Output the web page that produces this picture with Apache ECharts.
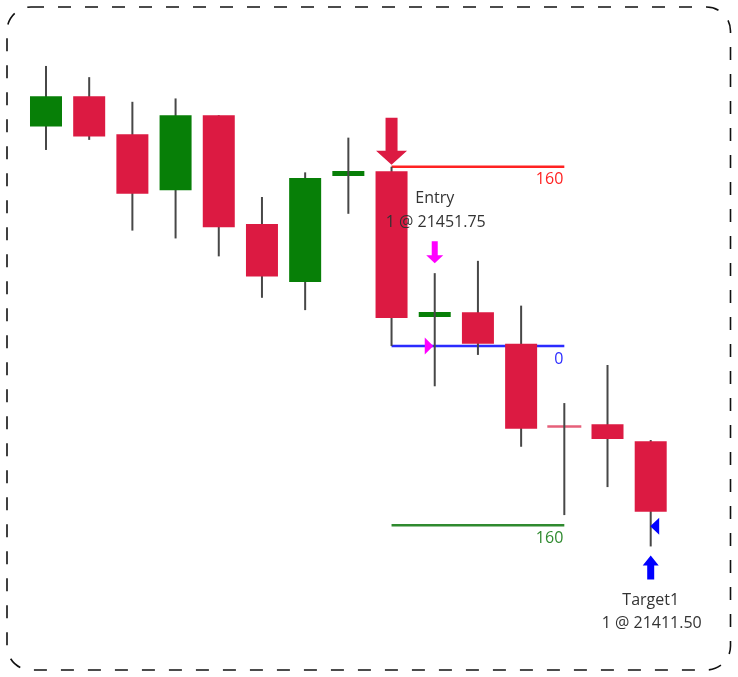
<!DOCTYPE html>
<html>
<head>
<meta charset="utf-8">
<script src="https://cdn.jsdelivr.net/npm/echarts@6/dist/echarts.min.js"></script>
<style>html,body{margin:0;padding:0;background:#fff}#c{width:738px;height:677px}</style>
</head>
<body>
<div id="c"></div>
<script>
// ---- data ----
const categories = ['1','2','3','4','5','6','7','8','9','10','11','12','13','14','15'];
const openV  = [21500.75, 21507.5, 21499, 21486.5, 21503.25, 21479, 21466, 21490.25, 21490.75, 21458.75, 21459.25, 21452.25, 21433.75, 21434.25, 21430.5];
const closeV = [21507.5, 21498.5, 21485.75, 21503.25, 21478.25, 21467.25, 21489.25, 21490.25, 21458, 21458.75, 21452.25, 21433.25, 21433.75, 21431, 21414.75];
const lowV   = [21495.5, 21497.75, 21477.5, 21475.75, 21471.75, 21462.5, 21459.75, 21481.25, 21451.75, 21442.75, 21449.75, 21429.25, 21414, 21420.25, 21407];
const highV  = [21514.25, 21511.75, 21506.25, 21507, 21503.25, 21485, 21490.5, 21498.25, 21491.75, 21468, 21470.75, 21460.75, 21439, 21447.5, 21430.75];
const bearishDoji = [12];

const levelPrices = [21491.75, 21451.75, 21411.75];
const levelLabels = ['160', '0', '160'];
const levelColors = ['#ff2222', '#2b2bff', '#2f8a2f'];
const levelStart = 8, levelEnd = 12;

const signalIndex = 8;
const entryIndex = 9, entryPrice = 21451.75, entryTexts = ['Entry', '1 @ 21451.75'];
const targetIndex = 14, targetPrice = 21411.50, targetTexts = ['Target1', '1 @ 21411.50'];

// ---- styles ----
const GREEN = '#077f07', RED = '#dc1a42', WICK = '#474747';
const FONT = '15px "Open Sans", "Noto Sans", sans-serif';
const TFONT = '16px "Open Sans", "Noto Sans", sans-serif';
const TCOL = '#333333';

function downArrow(cx, tipY, shaftW, shaftLen, headW, headLen) {
  const b = tipY - headLen, t = b - shaftLen;
  return [[cx - shaftW/2, t], [cx + shaftW/2, t], [cx + shaftW/2, b], [cx + headW/2, b], [cx, tipY], [cx - headW/2, b], [cx - shaftW/2, b]];
}
function upArrow(cx, tipY, shaftW, shaftLen, headW, headLen) {
  const b = tipY + headLen, t = b + shaftLen;
  return [[cx - shaftW/2, t], [cx + shaftW/2, t], [cx + shaftW/2, b], [cx + headW/2, b], [cx, tipY], [cx - headW/2, b], [cx - shaftW/2, b]];
}

const chart = echarts.init(document.getElementById('c'));

const candleData = categories.map((c, i) => [i, openV[i], closeV[i], lowV[i], highV[i]]);

function renderCandle(params, api) {
  const i = api.value(0), o = api.value(1), c = api.value(2), l = api.value(3), h = api.value(4);
  const pO = api.coord([i, o]), pC = api.coord([i, c]), pL = api.coord([i, l]), pH = api.coord([i, h]);
  const x = pO[0], bw = 32;
  const wick = {type: 'line', shape: {x1: x, y1: pH[1], x2: x, y2: pL[1]}, style: {stroke: WICK, lineWidth: 2}};
  if (o === c) {
    const bear = bearishDoji.indexOf(i) >= 0;
    const hh = bear ? 2.5 : 5;
    const body = {type: 'rect', shape: {x: x - bw/2 - (bear ? 1 : 0), y: pO[1] - hh/2, width: bw + (bear ? 2 : 0), height: hh},
      style: {fill: bear ? '#e6607a' : GREEN}};
    return {type: 'group', children: [body, wick]};
  }
  const top = Math.min(pO[1], pC[1]), bot = Math.max(pO[1], pC[1]);
  const body = {type: 'rect', shape: {x: x - bw/2, y: top, width: bw, height: bot - top}, style: {fill: c > o ? GREEN : RED}};
  return {type: 'group', children: [wick, body]};
}

function renderLevel(params, api) {
  const k = params.dataIndex;
  const p1 = api.coord([api.value(0), api.value(2)]);
  const p2 = api.coord([api.value(1), api.value(2)]);
  return {type: 'group', children: [
    {type: 'line', shape: {x1: p1[0], y1: p1[1], x2: p2[0], y2: p2[1]}, style: {stroke: levelColors[k], lineWidth: 2.5}},
    {type: 'text', style: {text: levelLabels[k], x: p2[0] - 1, y: p2[1] + 13, fill: levelColors[k], font: TFONT, align: 'right', verticalAlign: 'middle'}}
  ]};
}

const option = {
  animation: false,
  grid: {left: 24.4, top: 17.8, width: 647.9, height: 604.8},
  xAxis: {type: 'category', data: categories, show: false, boundaryGap: true},
  yAxis: {type: 'value', min: 21390, max: 21525, show: false},
  graphic: [{
    type: 'rect', x: 7, y: 7, shape: {x: 0, y: 0, width: 723.5, height: 663, r: 24},
    style: {fill: 'none', stroke: '#111', lineWidth: 1.6, lineDash: [13, 14]}, silent: true
  }],
  series: [
    {type: 'custom', name: 'levels', data: levelPrices.map(p => [levelStart, levelEnd, p]), renderItem: renderLevel, z: 1},
    {type: 'custom', name: 'candles', data: candleData, encode: {x: 0, y: [1, 2, 3, 4]}, renderItem: renderCandle, z: 2},
    {type: 'custom', name: 'signal', data: [[signalIndex, highV[signalIndex]]], z: 3,
      renderItem: (params, api) => {
        const p = api.coord([api.value(0), api.value(1)]);
        return {type: 'polygon', shape: {points: downArrow(p[0], p[1] - 2, 12, 33, 31, 14)}, style: {fill: RED}};
      }},
    {type: 'custom', name: 'entryArrow', data: [[entryIndex, highV[entryIndex]]], z: 3,
      renderItem: (params, api) => {
        const p = api.coord([api.value(0), api.value(1)]);
        return {type: 'group', children: [
          {type: 'polygon', shape: {points: downArrow(p[0], p[1] - 10, 6, 14, 17, 8)}, style: {fill: '#ff00ff'}},
          {type: 'text', style: {text: entryTexts[0], x: p[0], y: p[1] - 75, fill: TCOL, font: TFONT, align: 'center', verticalAlign: 'middle'}},
          {type: 'text', style: {text: entryTexts[1], x: p[0] + 1, y: p[1] - 51, fill: TCOL, font: TFONT, align: 'center', verticalAlign: 'middle'}}
        ]};
      }},
    {type: 'custom', name: 'entryFill', data: [[entryIndex, entryPrice]], z: 4,
      renderItem: (params, api) => {
        const p = api.coord([api.value(0), api.value(1)]);
        return {type: 'polygon', shape: {points: [[p[0] - 10, p[1] - 8.5], [p[0] - 1.5, p[1]], [p[0] - 10, p[1] + 8.5]]}, style: {fill: '#ff00ff'}};
      }},
    {type: 'custom', name: 'targetArrow', data: [[targetIndex, lowV[targetIndex]]], z: 3,
      renderItem: (params, api) => {
        const p = api.coord([api.value(0), api.value(1)]);
        return {type: 'group', children: [
          {type: 'polygon', shape: {points: upArrow(p[0], p[1] + 9, 7, 14, 16, 10)}, style: {fill: '#0000ff'}},
          {type: 'text', style: {text: targetTexts[0], x: p[0], y: p[1] + 54, fill: TCOL, font: TFONT, align: 'center', verticalAlign: 'middle'}},
          {type: 'text', style: {text: targetTexts[1], x: p[0] + 1, y: p[1] + 77, fill: TCOL, font: TFONT, align: 'center', verticalAlign: 'middle'}}
        ]};
      }},
    {type: 'custom', name: 'targetFill', data: [[targetIndex, targetPrice]], z: 4,
      renderItem: (params, api) => {
        const p = api.coord([api.value(0), api.value(1)]);
        return {type: 'polygon', shape: {points: [[p[0] + 8.5, p[1] - 8.5], [p[0] - 0.5, p[1]], [p[0] + 8.5, p[1] + 8.5]]}, style: {fill: '#0000ff'}};
      }}
  ]
};
chart.setOption(option);
</script>
</body>
</html>
